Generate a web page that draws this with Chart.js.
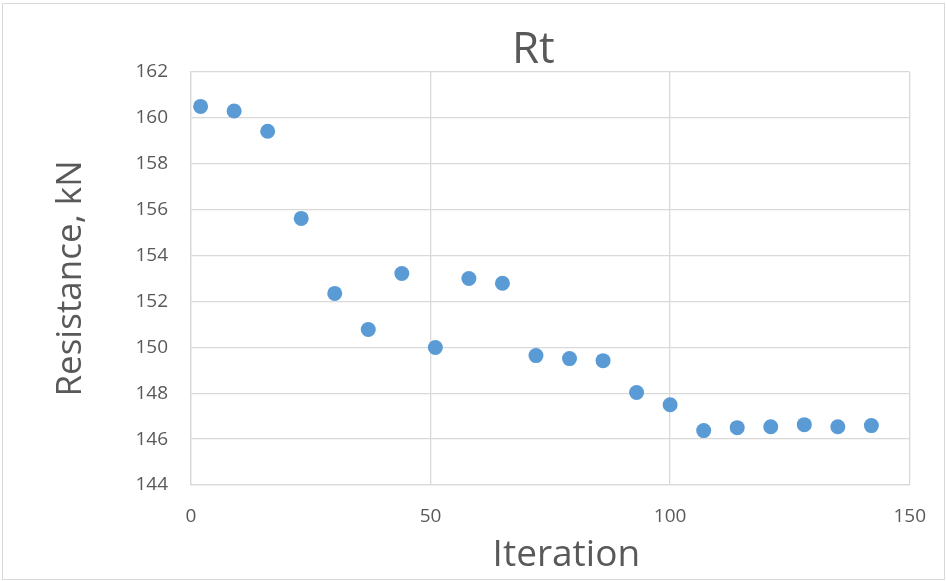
<!DOCTYPE html>
<html lang="en">
<head>
    <meta charset="UTF-8">
    <title>Rt</title>
    <style>
        body {
            margin: 0;
            background: #ffffff;
            font-family: 'Open Sans', sans-serif;
        }
        #wrap {
            position: relative;
            width: 946px;
            height: 581px;
        }
        #frame {
            position: absolute;
            left: 2px;
            top: 3px;
            width: 941px;
            height: 575px;
            border: 1px solid #d9d9d9; /* Excel chart area outline */
            pointer-events: none;
        }
    </style>
</head>
<body>
    <div id="wrap">
        <canvas id="rtChart" width="946" height="581"></canvas>
        <div id="frame"></div>
    </div>
    <script src="https://cdn.jsdelivr.net/npm/chart.js"></script>
    <script>
        // values
        const iterations = [2, 9, 16, 23, 30, 37, 44, 51, 58, 65, 72, 79, 86, 93, 100, 107, 114, 121, 128, 135, 142];
        const resistance = [160.5, 160.3, 159.42, 155.62, 152.35, 150.78, 153.22, 149.99, 153.0, 152.79,
                            149.64, 149.51, 149.42, 148.03, 147.5, 146.37, 146.5, 146.54, 146.63, 146.54, 146.59];
        const xTicks = [0, 50, 100, 150];
        const yTicks = [144, 146, 148, 150, 152, 154, 156, 158, 160, 162];

        const points = iterations.map((x, i) => ({ x: x, y: resistance[i] }));
        const textColor = '#595959';
        const gridColor = '#d9d9d9';

        // Excel puts the chart title and the x title a bit off the plot centre,
        // so they are drawn here instead of by the built-in title options
        const excelTitles = {
            id: 'excelTitles',
            afterDraw(chart) {
                const { ctx, chartArea } = chart;
                const mid = (chartArea.left + chartArea.right) / 2;
                ctx.save();
                ctx.fillStyle = textColor;
                ctx.textAlign = 'center';
                ctx.textBaseline = 'alphabetic';
                ctx.font = '44px "Open Sans"';
                ctx.fillText('Rt', mid - 17, chartArea.top - 9);
                ctx.font = '37px "Open Sans"';
                ctx.fillText('Iteration', mid + 16, chart.height - 15);
                ctx.restore();
            }
        };

        const ctx = document.getElementById('rtChart').getContext('2d');
        const rtChart = new Chart(ctx, {
            type: 'scatter',
            data: {
                datasets: [{
                    label: 'Rt',
                    data: points,
                    backgroundColor: '#5b9bd5',
                    borderColor: '#5b9bd5',
                    pointRadius: 7.5,
                    pointBorderWidth: 0
                }]
            },
            plugins: [excelTitles],
            options: {
                responsive: false,
                animation: false,
                layout: { padding: { left: 0, right: 31, top: 72, bottom: 0 } },
                plugins: {
                    legend: { display: false },
                    tooltip: { enabled: false },
                    title: { display: false }
                },
                scales: {
                    x: {
                        type: 'linear',
                        min: xTicks[0],
                        max: xTicks[xTicks.length - 1],
                        afterBuildTicks: (scale) => { scale.ticks = xTicks.map(v => ({ value: v })); },
                        afterFit: (scale) => { scale.height = 96; },
                        grid: { color: gridColor, lineWidth: 1.3, drawTicks: false },
                        border: { color: gridColor, width: 1.3 },
                        ticks: {
                            color: textColor,
                            padding: 20,
                            font: { family: 'Open Sans', size: 19 }
                        }
                    },
                    y: {
                        min: yTicks[0],
                        max: yTicks[yTicks.length - 1],
                        afterBuildTicks: (scale) => { scale.ticks = yTicks.map(v => ({ value: v })); },
                        afterFit: (scale) => { scale.width = 191; },
                        grid: { color: gridColor, lineWidth: 1.3, drawTicks: false },
                        border: { color: gridColor, width: 1.3 },
                        ticks: {
                            color: textColor,
                            padding: 23,
                            font: { family: 'Open Sans', size: 19 }
                        },
                        title: {
                            display: true,
                            text: 'Resistance, kN',
                            color: textColor,
                            font: { family: 'Open Sans', size: 35, lineHeight: 1.2 },
                            padding: { top: 50, bottom: 0 }
                        }
                    }
                }
            }
        });
    </script>
</body>
</html>
